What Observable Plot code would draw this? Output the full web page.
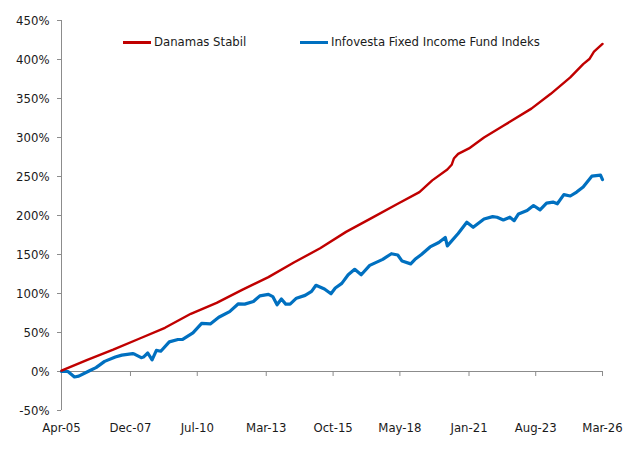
<!DOCTYPE html>
<html><head><meta charset="utf-8">
<script src="https://cdn.jsdelivr.net/npm/d3@7"></script>
<script src="https://cdn.jsdelivr.net/npm/@observablehq/plot@0.6"></script>
<style>
body{margin:0;background:#fff;}
#wrap{position:relative;width:634px;height:453px;font-family:"DejaVu Sans Condensed","DejaVu Sans",sans-serif;color:#1a1a1a;}
.legend{position:absolute;top:34px;height:16px;font-size:13px;line-height:16px;display:flex;align-items:center;white-space:nowrap;}
.sw{display:inline-block;width:28px;margin-right:3px;}
</style></head><body><div id="wrap"></div>
<script>
// ---- data ----
const danamasDates = ["2005-04","2006-04","2007-04","2008-04","2009-04","2010-04","2011-04","2012-04","2013-04","2014-04","2015-04","2016-04","2017-04","2018-04","2019-02","2019-08","2020-03","2020-05","2020-06","2020-08","2021-01","2021-08","2022-05","2023-06","2024-03","2024-12","2025-06","2025-09","2025-11","2026-03"];
const danamasValues = [1,15,28,42,56,74,88,105,121,140,158,179,197,215,230,245,259,265,273,279,286,300,315,337,356,377,394,401,410,420];

const infovestaDates = ["2005-04","2005-07","2005-10","2005-12","2006-05","2006-08","2006-12","2007-05","2007-08","2008-01","2008-02","2008-05","2008-06","2008-08","2008-10","2008-12","2009-02","2009-06","2009-10","2009-12","2010-05","2010-09","2011-01","2011-05","2011-10","2012-02","2012-05","2012-09","2012-12","2013-04","2013-06","2013-08","2013-10","2013-12","2014-02","2014-05","2014-09","2014-12","2015-02","2015-06","2015-09","2015-11","2016-02","2016-05","2016-08","2016-11","2017-03","2017-09","2018-01","2018-04","2018-06","2018-10","2018-12","2019-03","2019-07","2019-11","2020-02","2020-03","2020-08","2020-12","2021-03","2021-08","2021-12","2022-02","2022-05","2022-08","2022-10","2022-12","2023-04","2023-07","2023-10","2024-01","2024-04","2024-06","2024-09","2024-12","2025-03","2025-06","2025-10","2026-02","2026-03"];
const infovestaValues = [0,0,-7,-6,1,5,13,18.5,21,23,22,17.7,18.5,23.7,15,27,26,38,41,41,49.6,61.8,61,69.5,76.8,86.8,86.4,89.8,97,98.8,96,85.5,92.9,86.4,86.4,94,97.6,102.7,110.5,105.8,99.7,107,113,124,131,124,136,143.8,151,149.4,141.6,138,143.8,150,159.7,165.4,171.9,161,177,191.3,184.8,195.6,198.6,197.8,194.3,197.8,193.4,202,206.3,212.8,207.3,215.9,217.2,215,226.7,225,230,236.6,250.4,251.7,246];

const xTickLabels = ["Apr-05","Dec-07","Jul-10","Mar-13","Oct-15","May-18","Jan-21","Aug-23","Mar-26"];
const yTicks = [-50,0,50,100,150,200,250,300,350,400,450];
const seriesNames = ["Danamas Stabil","Infovesta Fixed Income Fund Indeks"];
const seriesColors = ["#C00000","#0070C0"];

// ---- build ----
const parseYM = d3.utcParse("%Y-%m");
const parseTick = d3.utcParse("%b-%y");
const fmtTick = d3.utcFormat("%b-%y");
const xTicks = xTickLabels.map(parseTick);
const danamas = danamasDates.map((d,i)=>({date:parseYM(d), value:danamasValues[i]}));
const infovesta = infovestaDates.map((d,i)=>({date:parseYM(d), value:infovestaValues[i]}));
const axisGray = "#8c8c8c";

const base = {
  width:634, height:453,
  marginLeft:61, marginRight:32, marginTop:20, marginBottom:43,
  x:{type:"utc", domain:[xTicks[0], xTicks[xTicks.length-1]]},
  y:{domain:[yTicks[0], yTicks[yTicks.length-1]]},
  style:{fontFamily:'"DejaVu Sans Condensed","DejaVu Sans",sans-serif', fontSize:"13px", color:"#1a1a1a", background:"#fff"}
};
const probe = Plot.plot({...base, marks:[]});
const ys = probe.scale("y");
const tickEnd = ys.invert(ys.apply(0) + 5);

const chart = Plot.plot({
  ...base,
  marks:[
    Plot.ruleY([0], {stroke:axisGray, strokeWidth:1}),
    Plot.ruleX(xTicks, {x:d=>d, y1:0, y2:tickEnd, stroke:axisGray}),
    Plot.ruleX([xTicks[0]], {stroke:axisGray}),
    Plot.axisY({ticks:yTicks, tickSize:4, tickPadding:8, stroke:axisGray, tickFormat:d=>d+"%", label:null}),
    Plot.axisX({ticks:xTicks, tickSize:0, tickPadding:12, tickFormat:fmtTick, label:null}),
    Plot.line(infovesta, {x:"date", y:"value", stroke:seriesColors[1], strokeWidth:3.2, curve:"linear"}),
    Plot.line(danamas, {x:"date", y:"value", stroke:seriesColors[0], strokeWidth:2.4, curve:"linear"})
  ]
});
const wrap = document.getElementById("wrap");
wrap.appendChild(chart);

// legend (HTML overlay inside the chart area)
const legendLeft = [123, 300];
seriesNames.forEach((name,i)=>{
  const div = document.createElement("div");
  div.className = "legend";
  div.style.left = legendLeft[i] + "px";
  const sw = document.createElement("span");
  sw.className = "sw";
  sw.style.borderTop = "3px solid " + seriesColors[i];
  div.appendChild(sw);
  div.appendChild(document.createTextNode(name));
  wrap.appendChild(div);
});
</script>
</body></html>
